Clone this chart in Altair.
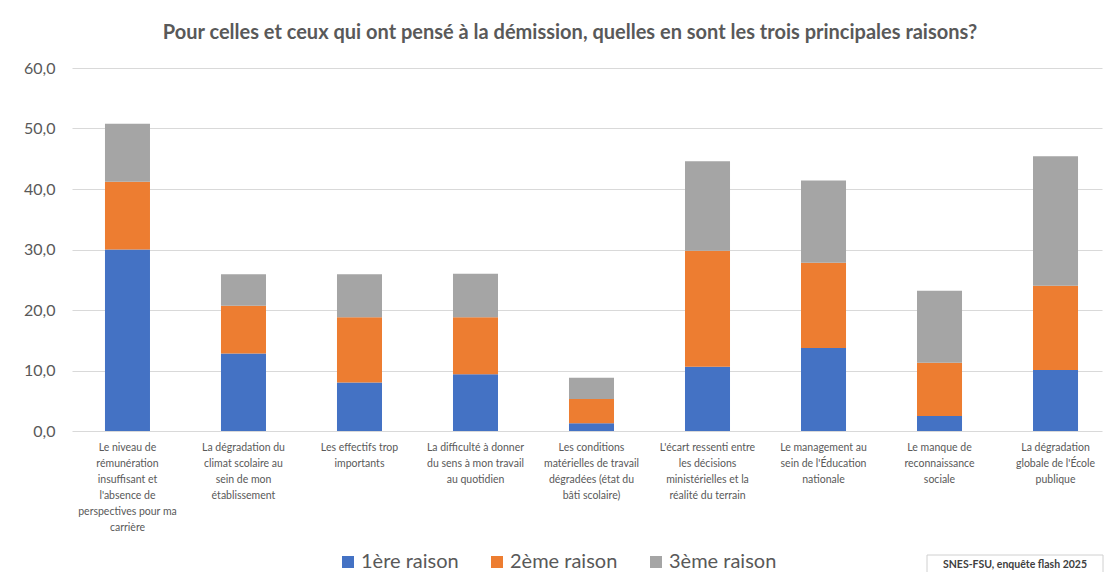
import altair as alt
import pandas as pd

categories = [
    "Le niveau de|rémunération|insuffisant et|l'absence de|perspectives pour ma|carrière",
    "La dégradation du|climat scolaire au|sein de mon|établissement",
    "Les effectifs trop|importants",
    "La difficulté à donner|du sens à mon travail|au quotidien",
    "Les conditions|matérielles de travail|dégradées (état du|bâti scolaire)",
    "L'écart ressenti entre|les décisions|ministérielles et la|réalité du terrain",
    "Le management au|sein de l'Éducation|nationale",
    "Le manque de|reconnaissance|sociale",
    "La dégradation|globale de l'École|publique",
]
series = ["1ère raison", "2ème raison", "3ème raison"]
r1 = [30.0, 12.8, 8.0, 9.4, 1.3, 10.6, 13.7, 2.5, 10.1]
r2 = [11.2, 7.9, 10.8, 9.4, 4.0, 19.2, 14.1, 8.8, 13.9]
r3 = [9.6, 5.2, 7.1, 7.2, 3.5, 14.8, 13.6, 11.9, 21.4]
colors = ["#4472C4", "#ED7D31", "#A5A5A5"]
y_ticks = [0, 10, 20, 30, 40, 50, 60]
title = "Pour celles et ceux qui ont pensé à la démission, quelles en sont les trois principales raisons?"
source = "SNES-FSU, enquête flash 2025"

rows = []
for i, c in enumerate(categories):
    for k, (s, vals) in enumerate(zip(series, [r1, r2, r3])):
        rows.append({"cat": c, "serie": s, "rank": k, "val": vals[i]})
df = pd.DataFrame(rows)

FONT = "Lato"
GREY = "#595959"

bars = alt.Chart(df).mark_bar().encode(
    x=alt.X("cat:N", sort=categories,
            scale=alt.Scale(paddingInner=0.612, paddingOuter=0.2455, align=0.579),
            axis=alt.Axis(title=None, labelAngle=0, labelExpr="split(datum.value, '|')",
                          labelFontSize=10.5, labelLineHeight=16, labelColor=GREY,
                          labelFont=FONT, labelPadding=11, ticks=False, domain=False,
                          labelLimit=0, labelOverlap=False, labelBound=False,
                          labelFlush=False)),
    y=alt.Y("val:Q", stack="zero",
            scale=alt.Scale(domain=[0, 60], nice=False),
            axis=alt.Axis(title=None, values=y_ticks,
                          labelExpr="replace(format(datum.value, '.1f'), '.', ',')",
                          labelFontSize=16, labelColor=GREY, labelFont=FONT,
                          labelPadding=17, ticks=False, domain=False,
                          gridColor="#D9D9D9", gridWidth=1)),
    color=alt.Color("serie:N", sort=series,
                    scale=alt.Scale(domain=series, range=colors),
                    legend=alt.Legend(title=None, orient="none", direction="horizontal",
                                      legendX=266, legendY=484, symbolType="square",
                                      symbolSize=144, symbolStrokeWidth=0,
                                      labelFontSize=20, labelColor=GREY, labelFont=FONT,
                                      columnPadding=28, symbolOffset=0, labelOffset=3)),
    order=alt.Order("rank:Q", sort="ascending"),
)

src_df = pd.DataFrame({"t": [source]})
box = alt.Chart(src_df).mark_rect(fill="white", stroke="#D0D0D0", strokeWidth=1).encode(
    x=alt.value(855), x2=alt.value(1031), y=alt.value(487), y2=alt.value(507)
)
src = alt.Chart(src_df).mark_text(font=FONT, fontSize=10.5, fontWeight="bold",
                                   color="#404040", align="center", baseline="middle").encode(
    text="t:N", x=alt.value(943), y=alt.value(497)
)

chart = alt.layer(bars, box, src).properties(
    width=1030, height=363,
    autosize=alt.AutoSizeParams(type="none"),
    padding={"left": 64, "top": 60, "right": 2, "bottom": 141},
    title=alt.TitleParams(title, fontSize=20, fontWeight="bold", color=GREY, font=FONT,
                          anchor="middle", dx=-17, offset=17),
).configure_view(stroke=None)

chart.save("out.html", embed_options={"renderer": "svg", "actions": False})
